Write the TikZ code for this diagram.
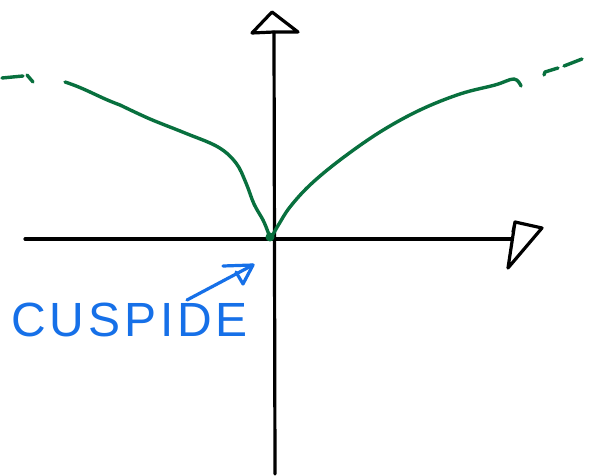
\documentclass[tikz,border=0pt]{standalone}
\usepackage{fontspec}
\setmainfont{Liberation Sans}
\definecolor{pen}{RGB}{0,0,0}
\definecolor{cgreen}{RGB}{8,112,62}
\definecolor{cblue}{RGB}{22,112,232}
\begin{document}
\begin{tikzpicture}[x=1pt,y=-1pt,
  axis/.style={draw=pen,line width=3.2pt,line cap=round,line join=round},
  curvestyle/.style={draw=cgreen,line width=3.4pt,line cap=round,line join=round},
  bluepen/.style={draw=cblue,line width=3.2pt,line cap=round,line join=round}]
\useasboundingbox[fill=white] (0,0) rectangle (590,476);
% axes
\coordinate (vbot) at (275,474);
\coordinate (vtop) at (274,32);
\coordinate (hl) at (25,239);
\coordinate (hr) at (511,239);
\draw[axis] (vbot) -- (vtop);
\draw[axis] (hl) -- (hr);
% vertical arrowhead
\draw[axis] (vtop) -- (252,33) -- (272,12) -- (298,32) -- cycle;
% horizontal arrowhead
\draw[axis] (515,222) -- (508,268) -- (542,228) -- (515,222) -- (513,232);
% green curve
\coordinate (cusp) at (270,237);
\draw[curvestyle] (65,82) to[out=-18,in=160] (120,105)
  plot[smooth,tension=0.6] coordinates {(120,105) (150,119) (185,133) (218,147) (236,163) (246,183) (254,204) (263,220) (268,232) (270,238)};
\draw[curvestyle] plot[smooth,tension=0.6] coordinates {(271,238) (279,224) (290,207) (310,185) (340,160) (380,132) (420,110) (460,94) (495,85) (514,79) (521,86)};
\fill[cgreen] (cusp) circle (4.5);
\draw[curvestyle] (2,78) -- (23,76);
\draw[curvestyle] (27,75) -- (33,82);
\draw[curvestyle] (544,75) -- (545,72) -- (558,68);
\draw[curvestyle] (564,66) -- (582,59);
% label
\node[text=cblue,font=\fontsize{48}{48}\selectfont\addfontfeature{LetterSpace=8},anchor=west] (lab) at (8,320) {CUSPIDE};
\coordinate (atip) at (253,265);
\draw[bluepen] (187,300) -- (atip);
\draw[bluepen] (223,266) -- (atip) -- (243,284) -- (236,272);
\end{tikzpicture}
\end{document}
